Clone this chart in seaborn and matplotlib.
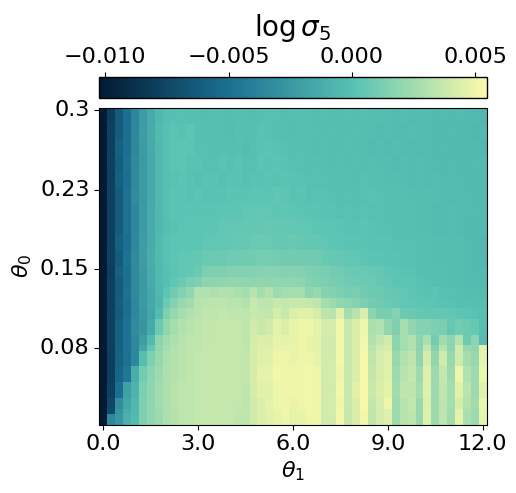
import numpy as np
import matplotlib
matplotlib.use("Agg")
import matplotlib.pyplot as plt
import seaborn as sns
from matplotlib.colors import LinearSegmentedColormap

# values, in units of 1e-4, top band of rows first
band_00 = [-101,-80,-63,-50,-36,-23,-13,-5,-1,0,0,-1,-1,-2,-1,-1,-2,-1,-1,-2,0,0,0,-2,-1,-1,-1,-2,-1,-2,-2,-1,-2,-1,-2,-2,-2,-3,-2,-3,-3,-3,-4,-3,-4,-3,-4,-4,-5]
band_01 = [-102,-78,-62,-50,-35,-22,-13,-4,0,2,1,3,0,-1,-1,-1,-2,0,-1,-1,1,0,-1,-1,-2,0,-1,-1,-2,-1,-2,-2,-1,-2,-2,-3,-2,-3,-3,-2,-3,-3,-4,-4,-3,-4,-4,-5,-4]
band_02 = [-102,-79,-60,-50,-35,-23,-13,-5,0,2,3,2,0,0,-1,0,-1,0,-2,0,1,2,1,0,-1,0,-1,-2,-1,-2,-2,-1,-2,-2,-3,-2,-3,-2,-3,-3,-3,-3,-4,-3,-4,-4,-4,-4,-5]
band_03 = [-102,-78,-61,-49,-34,-24,-14,-5,0,2,3,1,1,0,0,1,0,1,0,0,2,1,2,1,0,0,-1,0,-1,-2,-1,-2,-1,-2,-1,-2,-2,-3,-2,-3,-2,-3,-3,-4,-3,-4,-4,-3,-4]
band_04 = [-102,-79,-60,-50,-34,-23,-14,-5,0,1,2,1,0,1,1,0,1,1,0,1,1,2,1,2,1,1,0,0,0,-1,-1,-1,-2,0,-1,-1,-2,-2,-2,-3,-2,-3,-2,-3,-3,-3,-4,-4,-4]
band_05 = [-102,-78,-62,-49,-33,-24,-14,-5,0,2,2,1,2,1,1,1,2,2,2,3,3,2,4,3,1,2,0,1,1,0,-1,0,-1,0,1,0,-1,-1,-1,-2,-2,-2,-2,-3,-3,-3,-3,-4,-4]
band_06 = [-101,-78,-62,-49,-35,-24,-13,-5,0,2,2,2,2,2,2,3,3,3,4,4,4,4,3,4,3,2,2,2,1,1,0,1,0,1,0,0,-1,-1,-1,-1,-2,-2,-3,-3,-2,-3,-3,-3,-4]
band_07 = [-101,-78,-62,-49,-35,-24,-13,-5,-1,1,2,3,3,3,3,4,5,4,5,5,5,6,5,5,5,4,4,3,3,2,2,1,1,2,1,0,0,-1,-1,-1,-2,-2,-3,-3,-2,-3,-4,-4,-4]
band_08 = [-102,-79,-60,-50,-35,-22,-13,-4,1,2,3,3,3,4,4,5,5,6,6,7,7,7,6,6,7,6,5,5,4,3,3,2,2,2,1,1,1,0,0,0,-1,-1,-2,-2,-2,-2,-3,-4,-5]
band_09 = [-102,-78,-62,-48,-34,-22,-12,-4,1,3,4,4,5,7,8,8,9,9,10,10,11,11,10,10,10,10,10,9,7,6,6,4,4,3,2,2,1,1,0,0,-1,-1,-2,-2,-2,-2,-3,-4,-5]
band_10 = [-102,-80,-60,-50,-34,-24,-13,-4,0,2,4,5,7,13,14,14,15,15,15,16,16,17,16,16,16,15,14,13,12,10,9,8,7,7,6,5,3,2,1,1,0,0,-1,-1,-2,-2,-3,-3,-4]
band_11 = [-102,-78,-62,-50,-33,-25,-13,-4,0,4,8,12,14,18,18,19,20,20,19,19,20,19,20,19,20,18,16,14,13,12,11,9,9,8,7,5,5,3,3,2,1,0,-1,-1,-2,-2,-3,-3,-4]
band_12 = [-102,-78,-62,-49,-34,-25,-15,-5,3,9,15,20,30,30,29,30,30,28,27,32,26,31,24,26,26,26,18,22,16,15,13,11,12,10,8,8,6,5,4,3,2,1,2,0,0,0,-2,-2,-3]
band_13 = [-102,-79,-61,-50,-35,-25,-15,-7,8,16,22,25,32,33,34,34,33,33,31,38,34,34,38,36,38,38,36,34,26,24,20,18,16,13,10,9,7,6,4,4,3,3,2,1,1,0,0,-1,-2]
band_14 = [-102,-78,-62,-50,-35,-26,-17,-3,14,22,26,30,33,35,35,36,35,35,34,38,36,36,42,38,44,46,46,42,34,33,46,26,32,44,18,12,12,16,8,7,6,5,5,5,4,3,2,1,0]
band_15 = [-102,-79,-60,-48,-33,-27,-14,8,20,26,30,32,35,36,36,37,37,36,35,40,38,40,47,44,48,50,50,47,42,42,52,38,44,50,28,30,20,14,26,20,16,16,13,12,6,10,8,6,-1]
band_16 = [-103,-79,-60,-48,-35,-22,-4,18,25,29,32,34,35,36,36,37,37,36,35,42,44,44,48,47,48,50,49,47,40,40,52,38,44,52,30,36,40,18,26,30,18,28,10,25,18,31,8,18,-3]
band_17 = [-103,-79,-60,-48,-35,-17,4,20,26,30,33,34,35,36,36,37,37,36,35,42,45,45,49,49,48,50,49,47,40,40,52,38,44,53,33,40,43,18,26,30,18,36,15,32,18,40,22,20,47]
band_18 = [-102,-80,-58,-49,-35,-2,14,22,28,31,33,35,36,37,36,37,37,36,36,42,46,46,50,51,49,50,50,48,40,41,52,38,44,53,35,43,46,22,30,34,20,42,20,40,22,40,27,22,48]
band_19 = [-102,-80,-56,-46,-12,10,18,24,29,31,33,35,36,37,37,37,37,36,36,42,47,47,52,51,50,51,52,50,40,42,51,38,44,54,36,43,46,24,32,36,24,45,24,36,24,50,30,24,50]
band_20 = [-102,-78,-50,-20,-8,13,19,25,29,32,34,35,36,37,37,37,37,36,35,42,46,46,50,51,51,50,52,51,40,41,52,38,46,54,38,44,47,25,34,34,26,45,24,35,26,46,33,24,46]
band_21 = [-102,-75,-32,-16,-6,14,20,25,29,32,34,35,36,37,37,37,36,36,34,40,44,47,50,51,49,51,52,51,40,42,51,38,44,54,36,43,50,24,32,36,22,44,24,34,26,43,31,25,50]
band_22 = [-102,-72,-28,-12,-5,14,20,24,29,31,34,35,36,37,36,37,36,35,34,40,44,46,48,50,47,49,51,50,40,41,52,37,44,52,35,42,45,24,32,34,22,45,24,34,25,47,28,24,48]
band_23 = [-102,-35,-26,-10,-4,14,20,24,29,31,34,35,36,37,36,37,36,35,34,40,44,46,48,50,47,49,51,50,40,41,52,37,44,52,35,42,45,24,32,34,22,45,24,34,25,47,28,24,48]
band_rows = [3, 3, 3, 3, 3, 3, 3, 3, 3, 3, 2, 2, 2, 2, 2, 3, 2, 1, 3, 3, 3, 2, 1, 2]

bands = [band_00, band_01, band_02, band_03, band_04, band_05, band_06, band_07,
         band_08, band_09, band_10, band_11, band_12, band_13, band_14, band_15,
         band_16, band_17, band_18, band_19, band_20, band_21, band_22, band_23]

cbar_ticks = [-0.010, -0.005, 0.000, 0.005]
x_labels = ["0.0", "3.0", "6.0", "9.0", "12.0"]
y_labels = ["0.3", "0.23", "0.15", "0.08"]

grid = np.repeat(np.array(bands), band_rows, axis=0) * 1e-4
n_rows, n_cols = grid.shape

cmap = LinearSegmentedColormap.from_list("deep_custom", ["#021a33", "#1b7092", "#5bc4b4", "#fbfaa8"])

W, H = 516, 493
fig = plt.figure(figsize=(W / 100, H / 100), dpi=100)
ax = fig.add_axes([99.3 / W, 1 - 424.5 / H, 387.4 / W, 316.8 / H])
cax = fig.add_axes([99.3 / W, 1 - 97.5 / H, 387.4 / W, 20.5 / H])

sns.heatmap(grid, cmap=cmap, vmin=-0.01024, vmax=0.00547, ax=ax, cbar_ax=cax,
            cbar_kws={"orientation": "horizontal", "ticks": cbar_ticks})

ax.set_xticks(np.arange(0, n_cols, 12) + 0.5)
ax.set_xticklabels(x_labels, rotation=0, fontsize=16)
ax.set_yticks(np.arange(0, n_rows, 15) + 0.5)
ax.set_yticklabels(y_labels, rotation=0, fontsize=16)
ax.set_xlabel(r"$\theta_1$", fontsize=16)
ax.set_ylabel(r"$\theta_0$", fontsize=16)
for spine in ax.spines.values():
    spine.set_visible(True)

cax.xaxis.set_ticks_position("top")
cax.xaxis.set_label_position("top")
cax.tick_params(labelsize=16)
cax.set_xlabel(r"$\log\sigma_5$", fontsize=20, labelpad=8)
cbar = ax.collections[0].colorbar
cbar.outline.set_visible(True)
cbar.outline.set_edgecolor("black")
cbar.outline.set_linewidth(1)

fig.savefig("out.png", dpi=100)
